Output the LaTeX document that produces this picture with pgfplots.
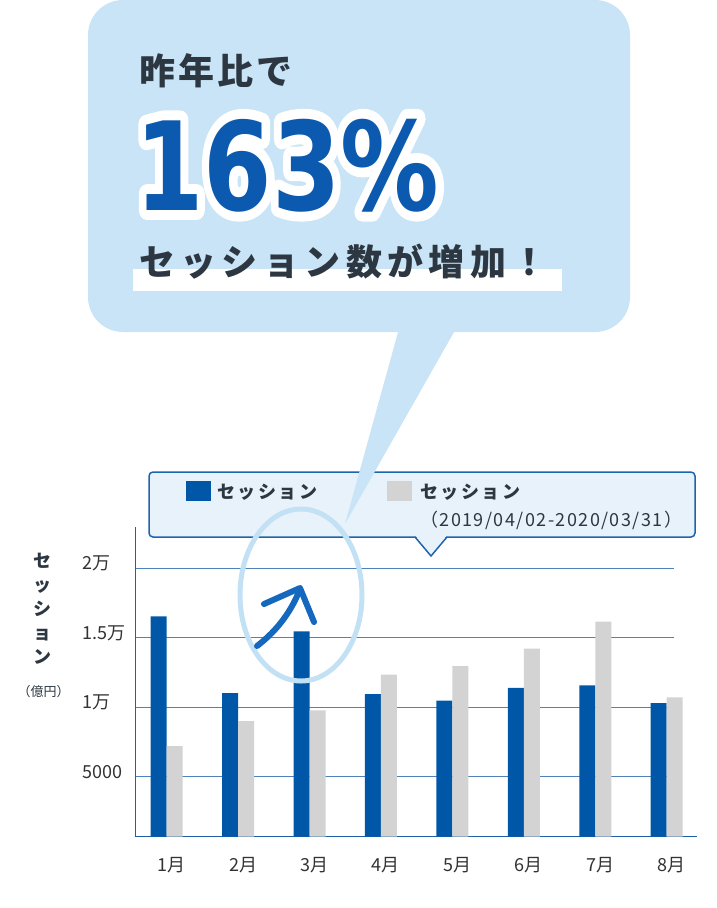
\documentclass[border=0pt]{standalone}
\usepackage{pgfplots}
\pgfplotsset{compat=1.18}
\usepackage{fontspec}
\setmainfont{Noto Sans CJK JP}
\newfontfamily\jp{Noto Sans CJK JP}
\newfontfamily\jpa{Noto Sans CJK JP}[LetterSpace=9]
\newfontfamily\jpb{Noto Sans CJK JP}[LetterSpace=15]
\newfontfamily\jpl{Noto Sans CJK JP}[LetterSpace=14]
\newfontfamily\jpd{Noto Sans CJK JP}[LetterSpace=8]
\newfontfamily\numfont{DejaVu Sans}
\newfontfamily\numfontw{DejaVu Sans}[FakeBold=16]
\definecolor{bubble}{RGB}{200,228,246}
\definecolor{legfill}{RGB}{232,242,251}
\definecolor{legdraw}{RGB}{30,100,173}
\definecolor{barblue}{RGB}{0,87,168}
\definecolor{bargray}{RGB}{211,211,211}
\definecolor{axisc}{RGB}{30,95,165}
\definecolor{gridc}{RGB}{80,130,185}
\definecolor{txt}{RGB}{45,55,66}
\definecolor{tickc}{RGB}{51,51,51}
\definecolor{arrowc}{RGB}{20,105,190}
\definecolor{ellc}{RGB}{195,225,245}
\definecolor{bigblue}{RGB}{12,90,175}
\begin{document}
\begin{tikzpicture}[x=1pt,y=1pt]
% speech bubble
\fill[bubble, rounded corners=35pt] (88,0) rectangle (630,-332);
\node[anchor=base west, inner sep=0, text=txt, font=\jpa\bfseries\fontsize{36}{40}\selectfont] at (139,-84) {昨年比で};
\begin{scope}[line join=round, line cap=round]
\node[anchor=base west, inner sep=0, text=white] at (135,-210) {\scalebox{0.8}[1]{\numfontw\bfseries\fontsize{123}{123}\selectfont 163\%}};
\end{scope}
\node[anchor=base west, inner sep=0, text=bigblue] at (135,-210) {\scalebox{0.8}[1]{\numfont\bfseries\fontsize{123}{123}\selectfont 163\%}};
\fill[white] (133,-269) rectangle (562,-291);
\node[anchor=base west, inner sep=0, text=txt, font=\jpb\bfseries\fontsize{36}{40}\selectfont] at (139,-275) {セッション数が増加！};
% legend box
\draw[legdraw, fill=legfill, line width=1.5pt, rounded corners=4pt] (149,-472) rectangle (695,-537);
\fill[legfill] (415,-535.2) -- (431,-555) -- (447,-535.2) -- cycle;
\draw[legdraw, line width=1.5pt, line join=round] (415,-537) -- (431,-556) -- (447,-537);
\fill[barblue] (186,-481) rectangle (211,-501);
\fill[bargray] (387,-481) rectangle (412,-501);
\node[anchor=base west, inner sep=0, text=txt, font=\jpl\bfseries\fontsize{18}{20}\selectfont] at (217,-498) {セッション};
\node[anchor=base west, inner sep=0, text=txt, font=\jpl\bfseries\fontsize{18}{20}\selectfont] at (420,-498) {セッション};
\node[anchor=base west, inner sep=0, text=txt, font=\jpd\fontsize{18}{20}\selectfont] at (420,-526.5) {（2019/04/02-2020/03/31）};
% bubble tail
\fill[bubble, rounded corners=2pt] (400,-325) -- (458,-325) -- (345,-524) -- cycle;
% y title
\foreach \c [count=\i from 0] in {セ,ッ,シ,ョ,ン}{
  \node[anchor=base, inner sep=0, text=txt, font=\jp\bfseries\fontsize{18}{20}\selectfont] at (43,{-567.5-24*\i}) {\c};
}
\node[anchor=base, inner sep=0, text=txt, font=\jp\fontsize{13}{15}\selectfont] at (43.5,-696) {（億円）};
\begin{axis}[
  at={(135.7pt,-836.7pt)}, anchor=south west,
  scale only axis, width=561pt, height=309.4pt,
  xmin=-0.434, xmax=7.42, ymin=700, ymax=22950,
  scaled y ticks=false,
  axis x line*=bottom, axis y line*=left,
  axis line style={axisc, line width=1.5pt, -},
  major tick length=0pt, tick style={draw=none},
  xtick={0,1,2,3,4,5,6,7},
  xticklabels={1月,2月,3月,4月,5月,6月,7月,8月},
  ytick={5000,10000,15000,20000},
  yticklabels={5000,1万,1.5万,2万},
  xticklabel style={anchor=base, inner sep=0pt, yshift=-35pt, xshift=5pt, text=tickc, font=\jp\fontsize{18}{20}\selectfont},
  yticklabel style={anchor=base west, inner sep=0pt, xshift=-53.7pt, yshift=-1.5pt, text=tickc, font=\jp\fontsize{18}{20}\selectfont},
]
\pgfplotsinvokeforeach{5000,10000,15000,20000}{
  \draw[gridc, line width=1pt] (axis cs:-0.434,#1) -- (axis cs:7.106,#1);
}
\addplot[ybar, bar width=0.224, bar shift=-0.112, fill=barblue, draw=none]
  coordinates {(0,16550) (1,11030) (2,15470) (3,10960) (4,10480) (5,11410) (6,11590) (7,10310)};
\addplot[ybar, bar width=0.224, bar shift=0.112, fill=bargray, draw=none]
  coordinates {(0,7220) (1,9020) (2,9790) (3,12350) (4,12975) (5,14220) (6,16160) (7,10720)};
\end{axis}
% highlight ellipse and arrow
\draw[ellc, line width=5pt] (301,-595) ellipse [x radius=61, y radius=86];
\draw[arrowc, line width=6pt, line cap=round] (257,-646) .. controls (278,-630) and (292,-610) .. (300,-589);
\draw[arrowc, line width=6pt, line cap=round, line join=round] (264,-604) -- (300,-588) -- (314,-622);
\pgfresetboundingbox
\useasboundingbox (0,0) rectangle (716,-908);
\end{tikzpicture}
\end{document}
